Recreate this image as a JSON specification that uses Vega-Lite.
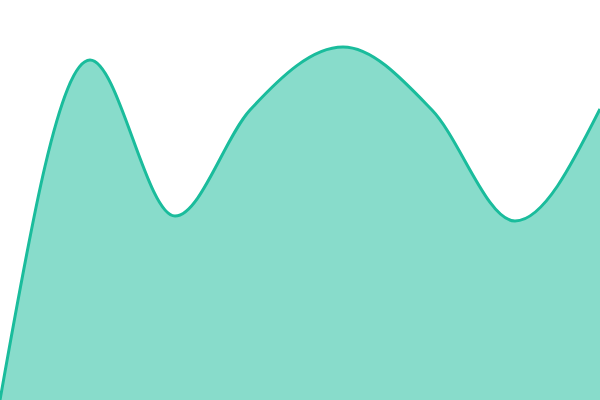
{
  "$schema": "https://vega.github.io/schema/vega-lite/v6.json",
  "width": 600,
  "height": 400,
  "autosize": {"type": "fit", "contains": "padding"},
  "padding": 0,
  "config": {"view": {"stroke": null}},
  "data": {
    "values": [
      {"x": 0, "y": 0},
      {"x": 90, "y": 340},
      {"x": 175, "y": 184},
      {"x": 250, "y": 290},
      {"x": 343, "y": 353},
      {"x": 432, "y": 290},
      {"x": 515, "y": 179},
      {"x": 600, "y": 291}
    ]
  },
  "encoding": {
    "x": {"field": "x", "type": "quantitative", "axis": null, "scale": {"domain": [0, 600], "nice": false, "zero": false}},
    "y": {"field": "y", "type": "quantitative", "axis": null, "scale": {"domain": [0, 400], "nice": false}}
  },
  "layer": [
    {
      "mark": {"type": "area", "interpolate": "monotone", "color": "#1abc9c", "fillOpacity": 0.52, "clip": true}
    },
    {
      "mark": {"type": "line", "interpolate": "monotone", "color": "#1abc9c", "strokeWidth": 3, "clip": true}
    }
  ]
}
